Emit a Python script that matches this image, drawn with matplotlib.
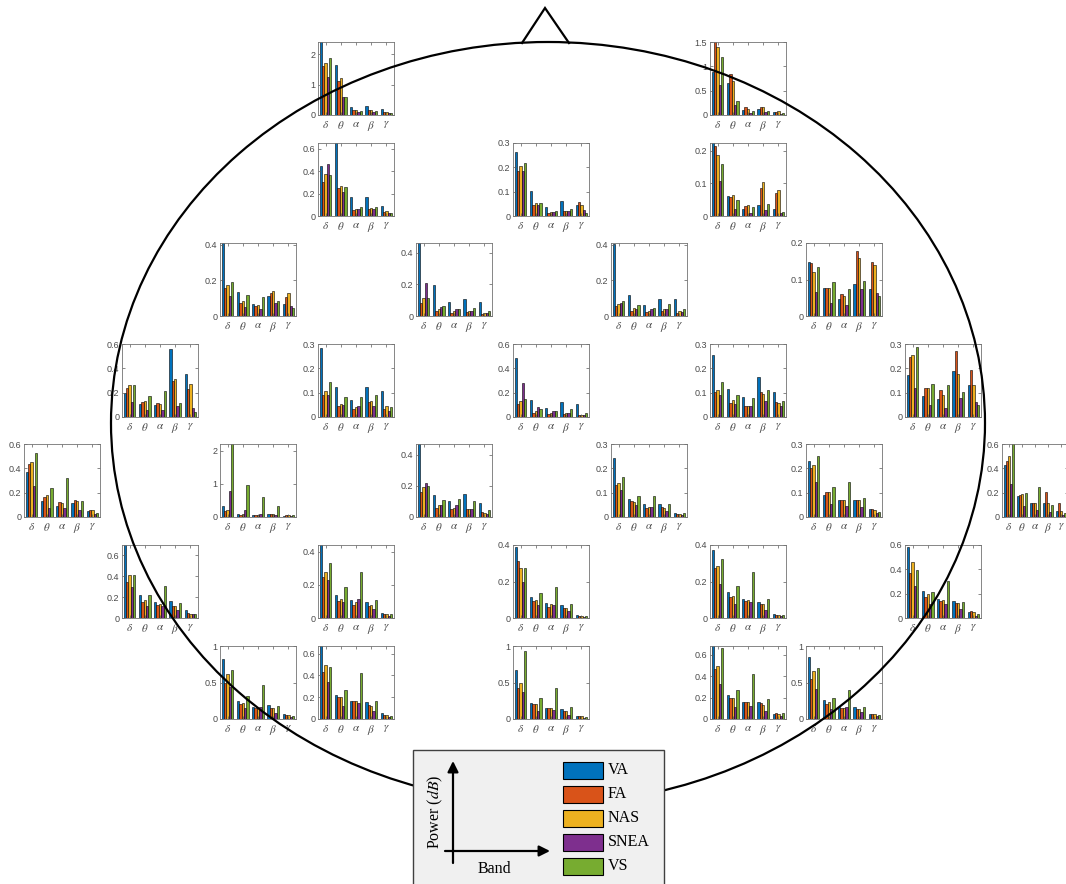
import numpy as np
import matplotlib
matplotlib.use("Agg")
import matplotlib.pyplot as plt
from matplotlib.patches import Ellipse, Rectangle

plt.rcParams['mathtext.fontset'] = 'stix'

# ---------------- data ----------------
series_names = ["VA", "FA", "NAS", "SNEA", "VS"]
series_colors = ["#0072BD", "#D95319", "#EDB120", "#7E2F8E", "#77AC30"]
band_labels = [r"$\delta$", r"$\theta$", r"$\alpha$", r"$\beta$", r"$\gamma$"]

# one row per electrode (30 electrodes), columns = delta, theta, alpha, beta, gamma
VA = [
    [2.45, 1.64, 0.27, 0.31, 0.20], [0.88, 0.66, 0.10, 0.125, 0.07],
    [0.446, 0.66, 0.172, 0.172, 0.092], [0.261, 0.102, 0.036, 0.063, 0.045], [0.226, 0.062, 0.023, 0.035, 0.023],
    [0.41, 0.132, 0.069, 0.113, 0.065], [0.47, 0.193, 0.09, 0.107, 0.088], [0.405, 0.119, 0.063, 0.097, 0.097], [0.147, 0.076, 0.047, 0.089, 0.073],
    [0.198, 0.105, 0.102, 0.556, 0.352], [0.285, 0.124, 0.07, 0.124, 0.106], [0.487, 0.138, 0.072, 0.124, 0.105], [0.254, 0.117, 0.083, 0.164, 0.103], [0.171, 0.085, 0.073, 0.188, 0.131],
    [0.372, 0.133, 0.094, 0.117, 0.05], [0.32, 0.1, 0.07, 0.09, 0.04], [0.48, 0.143, 0.1, 0.148, 0.089], [0.242, 0.076, 0.053, 0.053, 0.018], [0.23, 0.092, 0.069, 0.069, 0.031], [0.43, 0.17, 0.114, 0.119, 0.05],
    [0.72, 0.223, 0.154, 0.161, 0.075], [0.45, 0.141, 0.107, 0.095, 0.032], [0.387, 0.115, 0.084, 0.071, 0.019], [0.37, 0.14, 0.102, 0.089, 0.02], [0.58, 0.22, 0.153, 0.139, 0.047],
    [0.824, 0.245, 0.171, 0.194, 0.069], [0.68, 0.221, 0.161, 0.152, 0.052], [0.671, 0.218, 0.148, 0.139, 0.042], [0.69, 0.221, 0.155, 0.155, 0.045], [0.847, 0.259, 0.167, 0.171, 0.069],
]
FA = [
    [1.60, 1.12, 0.17, 0.15, 0.10], [1.55, 0.85, 0.17, 0.16, 0.07],
    [0.303, 0.247, 0.053, 0.059, 0.036], [0.183, 0.044, 0.012, 0.019, 0.059], [0.215, 0.058, 0.03, 0.085, 0.071],
    [0.16, 0.074, 0.056, 0.127, 0.104], [0.084, 0.029, 0.021, 0.025, 0.014], [0.054, 0.026, 0.02, 0.028, 0.017], [0.145, 0.076, 0.06, 0.177, 0.148],
    [0.24, 0.124, 0.113, 0.30, 0.234], [0.089, 0.044, 0.034, 0.06, 0.034], [0.107, 0.036, 0.022, 0.028, 0.014], [0.103, 0.056, 0.045, 0.102, 0.062], [0.245, 0.121, 0.113, 0.271, 0.193],
    [0.439, 0.167, 0.122, 0.139, 0.056], [0.18, 0.06, 0.06, 0.09, 0.06], [0.159, 0.061, 0.052, 0.052, 0.03], [0.131, 0.064, 0.035, 0.043, 0.012], [0.2, 0.101, 0.071, 0.071, 0.031], [0.46, 0.18, 0.119, 0.205, 0.115],
    [0.344, 0.151, 0.125, 0.115, 0.049], [0.249, 0.101, 0.078, 0.074, 0.022], [0.311, 0.091, 0.061, 0.056, 0.013], [0.275, 0.117, 0.095, 0.074, 0.019], [0.371, 0.176, 0.137, 0.126, 0.056],
    [0.5, 0.2, 0.144, 0.144, 0.06], [0.433, 0.203, 0.161, 0.124, 0.039], [0.431, 0.204, 0.144, 0.116, 0.037], [0.464, 0.2, 0.155, 0.148, 0.055], [0.546, 0.199, 0.144, 0.139, 0.069],
]
NAS = [
    [1.72, 1.21, 0.17, 0.15, 0.10], [1.39, 0.70, 0.125, 0.17, 0.08],
    [0.371, 0.267, 0.059, 0.074, 0.042], [0.204, 0.054, 0.015, 0.021, 0.044], [0.187, 0.063, 0.033, 0.103, 0.08],
    [0.175, 0.082, 0.06, 0.141, 0.128], [0.115, 0.045, 0.031, 0.033, 0.021], [0.067, 0.043, 0.03, 0.037, 0.026], [0.121, 0.076, 0.054, 0.16, 0.141],
    [0.267, 0.132, 0.107, 0.31, 0.275], [0.106, 0.055, 0.04, 0.067, 0.044], [0.129, 0.047, 0.036, 0.033, 0.017], [0.11, 0.069, 0.045, 0.095, 0.058], [0.254, 0.121, 0.089, 0.176, 0.133],
    [0.456, 0.178, 0.117, 0.133, 0.061], [0.2, 0.08, 0.06, 0.09, 0.05], [0.191, 0.078, 0.061, 0.052, 0.026], [0.14, 0.06, 0.042, 0.036, 0.012], [0.215, 0.103, 0.069, 0.069, 0.028], [0.5, 0.19, 0.119, 0.119, 0.05],
    [0.416, 0.17, 0.131, 0.115, 0.043], [0.28, 0.117, 0.095, 0.076, 0.022], [0.273, 0.097, 0.074, 0.056, 0.013], [0.285, 0.121, 0.097, 0.074, 0.015], [0.46, 0.195, 0.148, 0.126, 0.047],
    [0.616, 0.218, 0.153, 0.144, 0.06], [0.5, 0.206, 0.167, 0.115, 0.036], [0.491, 0.204, 0.144, 0.116, 0.037], [0.494, 0.2, 0.155, 0.13, 0.042], [0.662, 0.231, 0.157, 0.139, 0.069],
]
SNEA = [
    [1.24, 0.59, 0.09, 0.09, 0.06], [0.62, 0.21, 0.05, 0.06, 0.03],
    [0.46, 0.214, 0.059, 0.059, 0.024], [0.183, 0.045, 0.017, 0.019, 0.025], [0.107, 0.023, 0.01, 0.018, 0.008],
    [0.115, 0.048, 0.037, 0.071, 0.058], [0.205, 0.059, 0.047, 0.031, 0.018], [0.071, 0.041, 0.037, 0.037, 0.024], [0.065, 0.035, 0.029, 0.073, 0.062],
    [0.121, 0.058, 0.058, 0.09, 0.074], [0.089, 0.048, 0.044, 0.044, 0.026], [0.283, 0.08, 0.052, 0.036, 0.014], [0.089, 0.052, 0.045, 0.066, 0.044], [0.121, 0.051, 0.038, 0.078, 0.062],
    [0.253, 0.078, 0.078, 0.058, 0.028], [0.78, 0.2, 0.08, 0.07, 0.04], [0.22, 0.078, 0.078, 0.052, 0.022], [0.111, 0.05, 0.042, 0.025, 0.008], [0.145, 0.053, 0.047, 0.043, 0.015], [0.27, 0.09, 0.061, 0.044, 0.02],
    [0.302, 0.115, 0.115, 0.075, 0.036], [0.229, 0.097, 0.113, 0.052, 0.014], [0.195, 0.071, 0.071, 0.037, 0.007], [0.186, 0.074, 0.087, 0.043, 0.009], [0.265, 0.112, 0.112, 0.07, 0.017],
    [0.44, 0.144, 0.167, 0.083, 0.032], [0.342, 0.121, 0.145, 0.07, 0.018], [0.37, 0.116, 0.13, 0.056, 0.019], [0.327, 0.115, 0.124, 0.076, 0.027], [0.417, 0.139, 0.167, 0.097, 0.042],
]
VS = [
    [1.89, 0.59, 0.13, 0.13, 0.06], [1.19, 0.29, 0.08, 0.09, 0.035],
    [0.363, 0.259, 0.083, 0.077, 0.03], [0.216, 0.054, 0.022, 0.03, 0.014], [0.159, 0.048, 0.029, 0.036, 0.012],
    [0.193, 0.119, 0.108, 0.086, 0.043], [0.115, 0.066, 0.047, 0.051, 0.029], [0.082, 0.06, 0.045, 0.067, 0.041], [0.133, 0.094, 0.073, 0.097, 0.056],
    [0.264, 0.176, 0.212, 0.115, 0.041], [0.142, 0.083, 0.083, 0.089, 0.04], [0.146, 0.063, 0.047, 0.069, 0.036], [0.144, 0.089, 0.08, 0.109, 0.066], [0.289, 0.135, 0.13, 0.103, 0.048],
    [0.53, 0.239, 0.317, 0.128, 0.033], [2.25, 0.96, 0.6, 0.32, 0.05], [0.202, 0.111, 0.117, 0.1, 0.043], [0.163, 0.085, 0.086, 0.053, 0.015], [0.252, 0.125, 0.144, 0.078, 0.022], [0.61, 0.2, 0.247, 0.1, 0.03],
    [0.41, 0.223, 0.305, 0.144, 0.036], [0.332, 0.189, 0.277, 0.107, 0.022], [0.275, 0.138, 0.171, 0.078, 0.013], [0.326, 0.175, 0.251, 0.102, 0.015], [0.396, 0.215, 0.301, 0.134, 0.033],
    [0.676, 0.315, 0.468, 0.181, 0.042], [0.479, 0.267, 0.421, 0.161, 0.027], [0.93, 0.292, 0.431, 0.167, 0.032], [0.66, 0.273, 0.421, 0.185, 0.055], [0.699, 0.287, 0.403, 0.162, 0.051],
]
ylim_top = [2.4, 1.5, 0.65, 0.3, 0.224, 0.41, 0.46, 0.41, 0.2, 0.6, 0.3, 0.6, 0.3, 0.3,
            0.6, 2.2, 0.47, 0.3, 0.3, 0.6, 0.7, 0.44, 0.4, 0.4, 0.6, 1.0, 0.67, 1.0, 0.68, 1.0]
ytick_step = [1, 0.5, 0.2, 0.1, 0.1, 0.2, 0.2, 0.2, 0.1, 0.2, 0.1, 0.2, 0.1, 0.1,
              0.2, 1, 0.2, 0.1, 0.1, 0.2, 0.2, 0.2, 0.2, 0.2, 0.2, 0.5, 0.2, 0.5, 0.2, 0.5]

# ---------------- layout (pixels) ----------------
W, H = 1066, 884
row_tops = [42, 143, 243, 344, 444, 545, 646]
row_lefts = [
    [318, 710],
    [318, 513, 710],
    [220, 416, 611, 806],
    [122, 318, 513, 710, 905],
    [24, 220, 416, 611, 806, 1002],
    [122, 318, 513, 710, 905],
    [220, 318, 513, 710, 806],
]
AW, AH = 76, 73

fig = plt.figure(figsize=(W / 100, H / 100), dpi=100)
fig.patch.set_facecolor("white")

def px_axes(left, top, w, h):
    return fig.add_axes([left / W, 1 - (top + h) / H, w / W, h / H])

all_series = [VA, FA, NAS, SNEA, VS]
nser = len(all_series)
gw = 0.769
bw = gw / nser
x = np.arange(1, 6)
tick_col = "#4a4a4a"

k = 0
for top, lefts in zip(row_tops, row_lefts):
    for left in lefts:
        w = AW if left + AW <= W else 66   # the right-most plot is squeezed at the edge
        ax = px_axes(left, top, w, AH)
        for s in range(nser):
            off = (s - (nser - 1) / 2) * bw
            ax.bar(x + off, all_series[s][k], width=bw, color=series_colors[s],
                   edgecolor="black", linewidth=0.4)
        ax.set_xlim(0.5, 5.5)
        ax.set_ylim(0, ylim_top[k])
        ticks = np.arange(0, ylim_top[k] + 1e-9, ytick_step[k])
        ax.set_yticks(ticks)
        ax.set_yticklabels(["%g" % t for t in ticks], fontsize=6.5,
                           family="Liberation Sans", color=tick_col)
        ax.set_xticks(x)
        ax.set_xticklabels(band_labels, fontsize=8, color=tick_col)
        ax.tick_params(direction="in", length=2, width=0.5, top=True, right=True,
                       colors="0.35", pad=2)
        ax.tick_params(axis="x", pad=3)
        for lab in ax.get_xticklabels() + ax.get_yticklabels():
            lab.set_color(tick_col)
        for sp in ax.spines.values():
            sp.set_color("0.45")
            sp.set_linewidth(0.6)
        k += 1

# ---------------- head overlay ----------------
ov = fig.add_axes([0, 0, 1, 1])
ov.set_zorder(10)
ov.patch.set_alpha(0)
ov.set_xlim(0, W)
ov.set_ylim(H, 0)
ov.axis("off")

ov.add_patch(Ellipse((548, 423), 874, 762, fill=False, edgecolor="black", lw=1.6, zorder=2))
ov.plot([522, 545, 569], [43, 8, 43], color="black", lw=1.6, zorder=2,
        solid_joinstyle="miter")

# ---------------- legend box ----------------
ov.add_patch(Rectangle((413, 750), 251, 140, facecolor="#f0f0f0", edgecolor="0.25",
                       lw=1.0, zorder=5))
ov.annotate("", xy=(453, 761), xytext=(453, 863),
            arrowprops=dict(arrowstyle="-|>", lw=1.6, color="black", mutation_scale=16,
                            shrinkA=0, shrinkB=0), zorder=6)
ov.annotate("", xy=(550, 851), xytext=(445, 851),
            arrowprops=dict(arrowstyle="-|>", lw=1.6, color="black", mutation_scale=16,
                            shrinkA=0, shrinkB=0), zorder=6)
ov.text(435, 812, "Power ($dB$)", rotation=90, ha="center", va="center",
        fontsize=11.5, family="Liberation Serif", zorder=6)
ov.text(494, 869, "Band", ha="center", va="center", fontsize=11.5,
        family="Liberation Serif", zorder=6)

leg_y = [762, 786, 810, 834, 858]
for name, col, y0 in zip(series_names, series_colors, leg_y):
    ov.add_patch(Rectangle((563, y0), 40, 17, facecolor=col, edgecolor="black",
                           lw=0.8, zorder=6))
    ov.text(608, y0 + 8.5, name, ha="left", va="center", fontsize=11.5,
            family="Liberation Serif", zorder=6)

fig.savefig("out.png", dpi=100)
